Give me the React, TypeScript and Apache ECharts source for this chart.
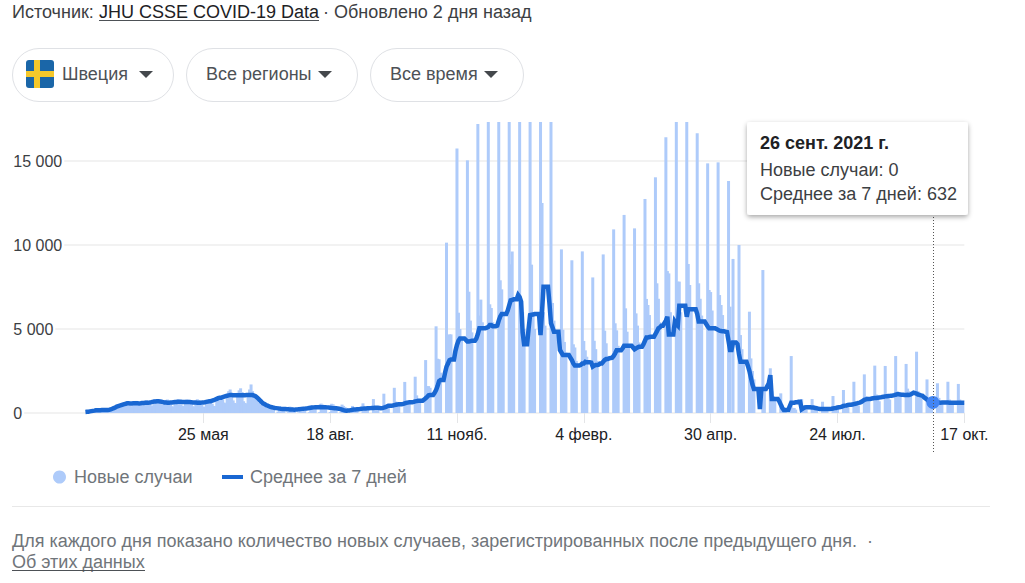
import React, { useEffect, useRef } from "react";
import * as echarts from "echarts";

// Days run from Sat 7 Mar 2020 to Sun 17 Oct 2021; each row is one week, Sat..Fri.
const newCases = [
  10,20,80,60,90,140,150,
  100,140,130,150,180,200,190,
  180,150,160,200,240,260,240,
  300,320,330,380,420,470,500,
  460,430,380,550,680,720,650,
  500,480,430,620,700,760,680,
  540,460,420,680,810,830,720,
  620,510,450,700,780,800,760,
  500,400,380,640,780,810,740,
  520,430,400,700,800,780,720,
  500,400,380,660,820,770,730,
  480,380,360,680,800,780,700,
  550,420,410,820,950,980,900,
  800,620,580,1100,1300,1400,1150,
  750,600,560,1200,1350,1470,1250,
  700,600,560,1100,1400,1700,1300,
  1100,1000,900,600,520,480,450,
  400,300,280,420,380,350,300,
  0,0,80,400,360,340,320,
  0,0,50,380,340,300,280,
  0,0,40,370,330,280,270,
  0,0,50,460,420,380,350,
  0,0,60,560,500,450,400,
  0,0,60,550,520,430,380,
  0,0,40,500,420,350,300,
  0,0,0,420,230,180,150,
  0,0,0,575,300,300,250,
  0,0,0,830,400,350,300,
  0,0,0,1150,500,400,400,
  0,0,0,1500,680,600,500,
  0,0,0,1850,750,650,600,
  0,0,0,2160,1050,800,700,
  0,0,0,3150,1600,1600,1500,
  0,0,0,5160,3230,3200,2400,
  0,0,0,10140,4030,4680,4680,
  0,0,0,15750,5970,5000,4500,
  0,0,0,15040,7220,5500,4800,
  0,0,0,17200,5800,6750,5400,
  0,0,0,18500,6470,6250,5400,
  0,0,0,18200,7900,7360,5800,
  0,0,0,19500,8850,9620,6700,
  0,0,0,21000,6500,6000,5000,
  0,0,0,19000,8830,6000,5000,
  0,0,0,20000,12500,6000,5200,
  0,0,0,19000,6550,5500,4800,
  0,0,0,9740,4960,4230,3600,
  0,0,0,9090,4090,3900,3100,
  0,0,0,9620,4290,3730,3350,
  0,0,0,8070,4300,3800,3100,
  0,0,0,9440,4900,4150,3400,
  0,0,0,10930,5340,4920,4000,
  0,0,0,11790,6230,4840,4000,
  0,0,0,10990,5930,5200,4200,
  0,0,0,12740,6790,6430,5830,
  0,0,0,14030,7720,6800,5400,
  0,0,0,16410,8450,8310,6000,
  0,0,0,18500,7820,7820,6000,
  0,0,0,18900,8870,7620,6300,
  0,0,0,16650,7720,6800,5800,
  0,0,0,14860,7320,7200,6100,
  0,0,0,14920,7020,6430,5830,
  0,0,0,13810,6330,0,9170,
  0,0,0,10000,4640,3800,3000,
  0,0,0,6030,3250,2500,2000,
  0,0,0,0,0,8510,1400,
  0,0,0,2660,1300,1000,800,
  0,0,0,1170,500,300,250,
  0,0,0,3390,300,300,200,
  0,0,0,830,350,250,200,
  0,0,0,830,300,250,200,
  0,0,0,670,270,230,180,
  0,0,0,1010,350,300,260,
  0,0,0,1370,450,400,350,
  0,0,0,1860,650,500,450,
  0,0,0,2300,1000,850,700,
  0,0,0,2820,1100,900,700,
  0,0,0,2800,1050,950,800,
  0,0,0,3390,1300,1200,1000,
  0,0,0,2920,1450,1300,1100,
  0,0,0,3650,1300,1200,1000,
  0,0,0,2000,800,600,500,
  0,0,0,1770,900,700,600,
  0,0,0,1860,800,700,600,
  0,0,0,1730,800,700,600,
  0,0,
];

const sevenDayAverage = [
  60,70,80,95,110,125,140,
  160,165,170,170,175,175,178,
  180,185,190,210,250,290,330,
  380,410,440,470,500,530,550,
  575,575,570,570,575,575,575,
  575,570,575,590,600,610,615,
  615,625,640,660,680,690,700,
  700,690,670,650,630,625,615,
  615,620,630,640,650,660,675,
  675,670,660,660,655,650,650,
  650,640,630,625,620,615,615,
  615,620,630,640,660,680,700,
  700,730,760,800,840,880,910,
  910,940,970,1000,1030,1050,1070,
  1070,1060,1060,1055,1050,1050,1050,
  1050,1060,1060,1065,1070,1070,1070,
  1070,1040,1000,930,850,750,660,
  575,530,480,440,400,360,340,
  320,300,290,275,260,250,245,
  240,235,225,220,215,210,205,
  200,205,210,220,230,245,255,
  260,270,280,300,310,325,335,
  340,340,345,350,345,340,340,
  340,335,325,315,305,290,285,
  280,270,250,230,200,170,150,
  140,145,150,170,190,205,215,
  220,225,235,250,260,270,275,
  280,285,290,295,300,310,315,
  310,300,290,300,320,350,390,
  436,436,436,450,470,490,510,
  516,516,516,540,570,600,620,
  635,635,635,660,690,710,730,
  734,734,734,800,880,960,1050,
  1070,1070,1070,1200,1370,1600,1900,
  1960,1960,1960,2400,2760,2950,3150,
  3190,3190,3190,3700,4050,4300,4440,
  4440,4440,4440,4350,4250,4250,4280,
  4300,4300,4300,4440,4700,5040,5040,
  5040,5040,5040,5080,5120,5240,5240,
  5160,5160,5160,5200,5500,5750,5890,
  5890,5890,5890,6100,6400,6700,6725,
  6770,6770,6770,7020,6900,6630,4800,
  4090,4090,4090,5000,5830,5850,5860,
  5890,5890,5890,5890,4640,6000,7520,
  7520,7520,7520,6500,5340,5100,4840,
  4840,4840,4840,3750,3600,3450,3450,
  3450,3450,3450,3300,3150,2950,2820,
  2820,2820,2820,2860,2950,2950,3050,
  3020,3020,3020,3000,2760,2820,2860,
  2860,2880,2940,2940,3050,3150,3210,
  3210,3250,3270,3290,3400,3550,3730,
  3730,3730,3730,3850,4010,4010,4010,
  4010,4010,4010,3900,3790,3850,3900,
  3950,3950,3950,4100,4300,4500,4500,
  4520,4540,4540,4540,4700,4850,5040,
  5100,5200,5200,5350,5500,5730,4680,
  4680,4680,4680,5440,5300,5200,6390,
  6390,6390,6390,6390,5730,6170,6170,
  6170,6170,6170,6170,5900,5440,5440,
  5440,5440,5440,5300,5150,5040,5040,
  5040,5040,5040,5000,4950,4900,4880,
  4860,4860,4840,4820,4300,3750,3750,
  4200,4200,4200,4100,3500,3050,3050,
  3050,3050,3050,2800,2500,2100,1700,
  1430,1430,1430,1430,240,1430,1430,
  1430,1430,1600,1770,2260,830,830,
  830,830,830,700,500,300,180,
  180,180,180,400,615,615,615,
  640,640,670,670,220,280,330,
  340,340,340,340,320,320,300,
  280,260,240,240,240,240,240,
  240,240,240,250,270,290,300,
  330,340,350,380,420,440,450,
  480,490,490,510,530,550,575,
  600,620,660,720,780,810,830,
  840,840,860,880,900,900,910,
  920,930,950,970,990,1000,1010,
  1020,1030,1040,1060,1090,1110,1110,
  1100,1090,1080,1070,1070,1090,1070,
  1100,1150,1210,1180,1150,1100,1080,
  1050,1030,940,870,800,720,660,
  640,632,632,630,620,620,615,
  620,620,620,625,620,615,615,
  610,610,610,612,615,615,610,
  615,612,
];

const tickDays = [79, 164, 249, 334, 419, 504, 589];
const tickLabels = ["25 мая", "18 авг.", "11 нояб.", "4 февр.", "30 апр.", "24 июл.", "17 окт."];
const yTicks = [0, 5000, 10000, 15000];
const hoverDay = 568;
const hoverAverage = 632;
const seriesNames = ["Новые случаи", "Среднее за 7 дней"];
const tooltipLines = ["26 сент. 2021 г.", "Новые случаи: 0", "Среднее за 7 дней: 632"];

const PAD = 49;
const FONT = '"Liberation Sans", Arial, sans-serif';
const BAR = "#aecbfa";
const LINE = "#1967d2";

const blanks = Array.from({ length: PAD }, () => null);
const cats = [...blanks, ...newCases].map((_, i) => String(i));
const tickIdx = tickDays.map((d) => d + PAD);
const isTick = (i: number) => tickIdx.includes(i);
const yMax = ((413 - 122) * 5000) / 84;

function text(x: number, y: number, t: string, color: string, extra: any = {}) {
  return {
    type: "text",
    x,
    y,
    style: { text: t, fill: color, font: `18px ${FONT}`, textVerticalAlign: "middle", ...extra },
    z: 20,
  };
}
function pill(x: number, w: number) {
  return {
    type: "rect",
    shape: { x: x + 0.5, y: 48.5, width: w, height: 53, r: 26.5 },
    style: { fill: "#fff", stroke: "#dfe1e5", lineWidth: 1 },
    z: 20,
  };
}
function caret(x: number) {
  return {
    type: "polygon",
    shape: { points: [[x, 71], [x + 14, 71], [x + 7, 78]] },
    style: { fill: "#44484c" },
    z: 21,
  };
}
function uline(x1: number, x2: number, y: number) {
  return {
    type: "line",
    shape: { x1, y1: y, x2, y2: y },
    style: { stroke: "#4d5156", lineWidth: 1 },
    z: 20,
  };
}

export default function App() {
  const ref = useRef<HTMLDivElement>(null);
  useEffect(() => {
    document.body.style.margin = "0";
    const chart = echarts.init(ref.current!, null, { renderer: "svg" });
    const gridBase = { top: 122, height: 291, width: 952 };
    const xBase = {
      type: "category",
      data: cats,
      boundaryGap: false,
      axisLine: { show: false },
      splitLine: { show: false },
    };
    chart.setOption({
      animation: false,
      textStyle: { fontFamily: FONT },
      grid: [
        { ...gridBase, left: 12.3 },
        { ...gridBase, left: 13.8 },
      ],
      xAxis: [
        {
          ...xBase,
          gridIndex: 0,
          axisTick: {
            show: true,
            length: 10,
            alignWithLabel: true,
            interval: (i: number) => isTick(i),
            lineStyle: { color: "#e4e5e7", width: 1 },
          },
          axisLabel: {
            interval: (i: number) => isTick(i),
            formatter: (_: string, i: number) => tickLabels[tickIdx.indexOf(i)] ?? "",
            color: "#202124",
            fontSize: 16,
            fontFamily: FONT,
            margin: 13,
          },
        },
        { ...xBase, gridIndex: 1, show: false },
      ],
      yAxis: [
        {
          type: "value",
          gridIndex: 0,
          min: 0,
          max: yMax,
          interval: 5000,
          axisLine: { show: false },
          axisTick: { show: false },
          splitLine: { showMaxLine: false, lineStyle: { color: "#eeeeee", width: 1.5 } },
          axisLabel: {
            inside: true,
            showMaxLabel: false,
            margin: 0,
            color: "#3c4043",
            fontSize: 16,
            fontFamily: FONT,
            backgroundColor: "#fff",
            padding: [0, 2, 0, 1],
            formatter: (v: number) =>
              yTicks.includes(v) ? String(v).replace(/\B(?=(\d{3})+$)/g, " ") : "",
          },
        },
        { type: "value", gridIndex: 1, min: 0, max: yMax, show: false, splitLine: { show: false } },
      ],
      legend: [
        {
          data: [seriesNames[0]],
          left: 53,
          top: 468,
          padding: 0,
          icon: "circle",
          itemWidth: 13,
          itemHeight: 13,
          textStyle: { color: "#70757a", fontSize: 18, fontFamily: FONT, padding: [0, 0, 0, 3] },
        },
        {
          data: [seriesNames[1]],
          left: 222,
          top: 468,
          padding: 0,
          icon: "rect",
          itemWidth: 21,
          itemHeight: 4,
          textStyle: { color: "#70757a", fontSize: 18, fontFamily: FONT, padding: [0, 0, 0, 2] },
        },
      ],
      series: [
        {
          name: seriesNames[0],
          type: "bar",
          xAxisIndex: 1,
          yAxisIndex: 1,
          data: [...blanks, ...newCases],
          barWidth: 3,
          itemStyle: { color: BAR },
          silent: true,
          z: 2,
        },
        {
          name: seriesNames[1],
          type: "line",
          xAxisIndex: 0,
          yAxisIndex: 0,
          data: [...blanks, ...sevenDayAverage],
          showSymbol: false,
          connectNulls: false,
          itemStyle: { color: LINE },
          lineStyle: { color: LINE, width: 4.5, join: "miter", cap: "butt" },
          silent: true,
          z: 4,
        },
        {
          type: "scatter",
          xAxisIndex: 0,
          yAxisIndex: 0,
          data: [[hoverDay + PAD, hoverAverage]],
          symbolSize: 13,
          itemStyle: { color: "#4285f4", opacity: 1 },
          silent: true,
          z: 5,
        },
      ],
      graphic: [
        text(12, 12, "Источник:", "#3c4043"),
        text(99, 12, "JHU CSSE COVID-19 Data", "#202124"),
        uline(99, 319, 20.5),
        text(323, 12, "· Обновлено 2 дня назад", "#3c4043"),

        pill(12, 161),
        pill(186, 171),
        pill(370, 153),
        {
          type: "rect",
          shape: { x: 26, y: 60, width: 28, height: 28, r: 3 },
          style: { fill: "#1a66a8" },
          z: 21,
        },
        { type: "rect", shape: { x: 34, y: 60, width: 6, height: 28 }, style: { fill: "#f5c82b" }, z: 22 },
        { type: "rect", shape: { x: 26, y: 71, width: 28, height: 6 }, style: { fill: "#f5c82b" }, z: 22 },
        text(62, 74, "Швеция", "#4d5156"),
        caret(139),
        text(206, 74, "Все регионы", "#4d5156"),
        caret(318),
        text(390, 74, "Все время", "#4d5156"),
        caret(484),

        {
          type: "line",
          shape: { x1: 933.5, y1: 214, x2: 933.5, y2: 454 },
          style: { stroke: "#555", lineWidth: 1, lineDash: [1, 2] },
          z: 10,
        },
        {
          type: "rect",
          shape: { x: 747, y: 122, width: 221, height: 93, r: 3 },
          style: {
            fill: "#fff",
            shadowBlur: 5,
            shadowOffsetY: 2,
            shadowColor: "rgba(0,0,0,0.35)",
          },
          z: 15,
        },
        text(760, 143, tooltipLines[0], "#202124", { font: `bold 18px ${FONT}` }),
        text(760, 170, tooltipLines[1], "#3c4043"),
        text(760, 194, tooltipLines[2], "#3c4043"),

        {
          type: "line",
          shape: { x1: 12, y1: 506.5, x2: 990, y2: 506.5 },
          style: { stroke: "#e8e8e8", lineWidth: 1 },
          z: 20,
        },
        text(
          12,
          541,
          "Для каждого дня показано количество новых случаев, зарегистрированных после предыдущего дня.  ·",
          "#70757a"
        ),
        text(12, 562, "Об этих данных", "#70757a"),
        uline(12, 145, 570.5),
      ],
    });
    return () => chart.dispose();
  }, []);
  return <div ref={ref} style={{ position: "absolute", left: 0, top: 0, width: 1025, height: 583 }} />;
}
